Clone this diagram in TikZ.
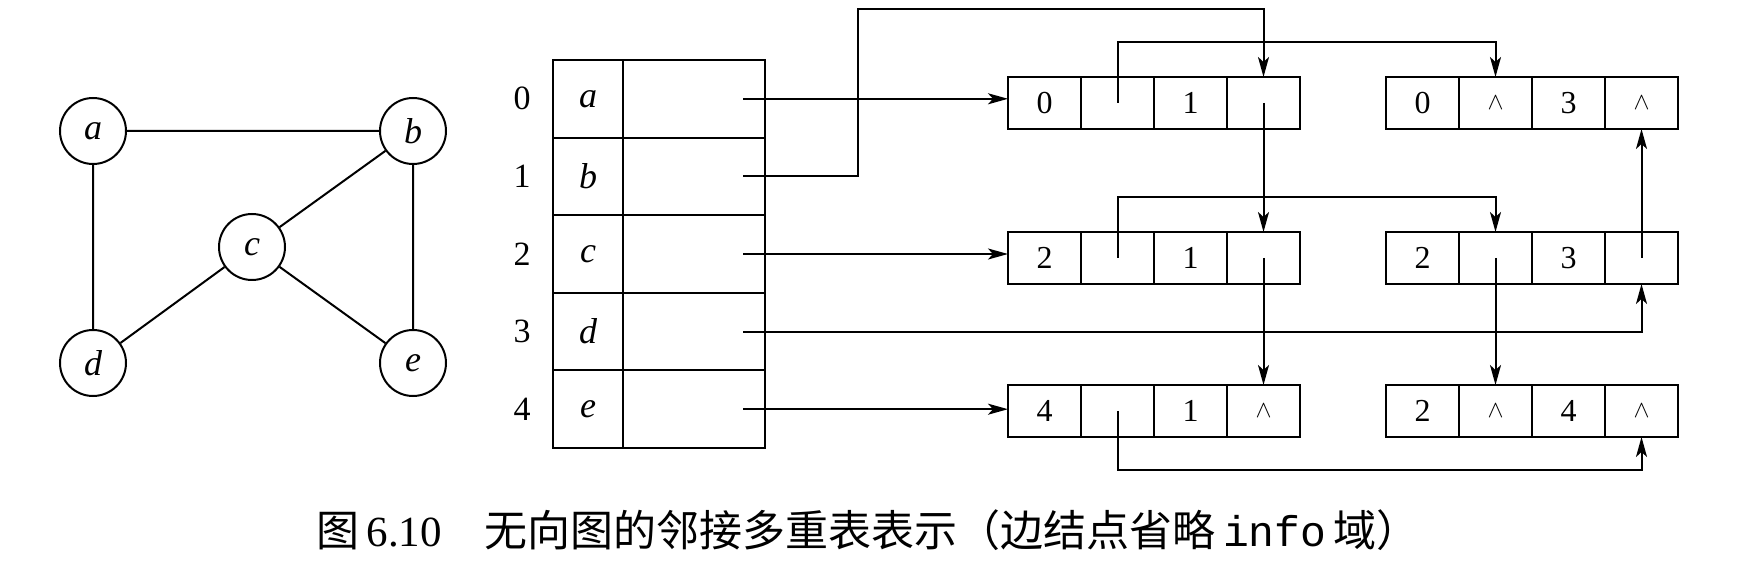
\documentclass[tikz,border=0pt]{standalone}
\usepackage{fontspec}
\setmainfont{Liberation Serif}
\setmonofont{Liberation Mono}
\newfontfamily\cjk{Noto Sans CJK SC}
\usetikzlibrary{positioning,arrows.meta}
\newcommand{\nilmark}{{\fontsize{12}{12}\selectfont$\wedge$}}

\begin{document}
\begin{tikzpicture}[x=0.5pt, y=-0.5pt, line width=1pt,
        vertex/.style={circle, draw, minimum size=33pt, inner sep=0pt, font=\fontsize{18}{18}\selectfont\itshape},
        cell/.style={draw, minimum width=36.5pt, minimum height=26pt, inner sep=0pt, outer sep=0pt, font=\fontsize{16}{16}\selectfont},
        namebox/.style={draw, minimum width=35pt, minimum height=38.8pt, inner sep=0pt, outer sep=0pt, font=\fontsize{18}{18}\selectfont\itshape},
        firstbox/.style={draw, minimum width=71pt, minimum height=38.8pt, inner sep=0pt, outer sep=0pt},
        ptr/.style={-{Stealth[length=10pt, width=5.5pt, inset=2.5pt]}}]

    \useasboundingbox (0,0) rectangle (1742,577);

    % Undirected graph
    \node[vertex] (a) at (93,131) {a};
    \node[vertex] (b) at (413,131) {b};
    \node[vertex] (c) at (252,247) {c};
    \node[vertex] (d) at (93,363) {d};
    \node[vertex] (e) at (413,363) {e};
    \draw (a) -- (b) (a) -- (d) (b) -- (c) (b) -- (e) (c) -- (d) (c) -- (e);

    % Vertex table
    \foreach \i/\v in {0/a,1/b,2/c,3/d,4/e} {
        \node[namebox] (vtx\i) at (588,{98.8+77.6*\i}) {\v};
        \node[firstbox, right=0pt of vtx\i] (fst\i) {};
        \node[font=\fontsize{17}{17}\selectfont] (idx\i) at (522,{98.8+77.6*\i}) {\i};
        \coordinate (p\i) at (743,{98.8+77.6*\i});
    }

    % Edge nodes
    \foreach \n/\x/\y/\ia/\pa/\ib/\pb in {
        e1/1008/103/0/{}/1/{},
        e2/1386/103/0/\nilmark/3/\nilmark,
        e3/1008/258/2/{}/1/{},
        e4/1386/258/2/{}/3/{},
        e5/1008/411/4/{}/1/\nilmark,
        e6/1386/411/2/\nilmark/4/\nilmark} {
        \node[cell] (\n-1) at ({\x+36.5},\y) {\ia};
        \node[cell, right=0pt of \n-1] (\n-2) {\pa};
        \node[cell, right=0pt of \n-2] (\n-3) {\ib};
        \node[cell, right=0pt of \n-3] (\n-4) {\pb};
    }

    % Firstedge pointers
    \draw[ptr] (p0) -- (p0 -| e1-1.west);
    \draw[ptr] (p1) -| (858,9) -| (e1-4.north);
    \draw[ptr] (p2) -- (p2 -| e3-1.west);
    \draw[ptr] (p3) -| (e4-4.south);
    \draw[ptr] (p4) -- (p4 -| e5-1.west);

    % ilink / jlink pointers
    \draw[ptr] (e1-2.center) -- ++(0,-61) -| (e2-2.north);
    \draw[ptr] (e1-4.center) -- (e3-4.north);
    \draw[ptr] (e3-2.center) -- ++(0,-61) -| (e4-2.north);
    \draw[ptr] (e3-4.center) -- (e5-4.north);
    \draw[ptr] (e4-2.center) -- (e6-2.north);
    \draw[ptr] (e4-4.center) -- (e2-4.south);
    \draw[ptr] (e5-2.center) -- ++(0,59) -| (e6-4.south);

    % Caption
    \node[font=\fontsize{21.5}{21.5}\selectfont] (cap) at (868,530)
        {{\cjk 图}\,6.10\quad{\cjk 无向图的邻接多重表表示（边结点省略}\,{\ttfamily info}\,{\cjk 域）}};
\end{tikzpicture}
\end{document}
